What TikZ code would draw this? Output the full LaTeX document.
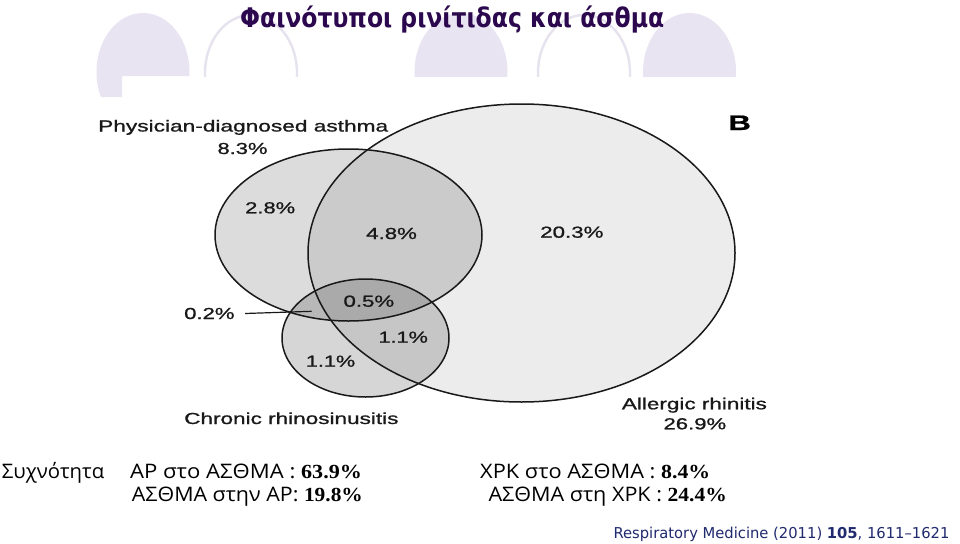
\documentclass[tikz,border=0pt]{standalone}
\usepackage{fontspec}
\usepackage{graphicx}
\setmainfont{Liberation Sans}
\newfontfamily\vennfont[FakeBold=0.9]{Liberation Sans}
\newfontfamily\titlefont{DejaVu Sans}
\newfontfamily\grkfont{Open Sans}
\newfontfamily\numfont{Liberation Serif}
\newfontfamily\reffont{DejaVu Sans}
\newcommand\fitw[2]{\resizebox{#1}{\height}{#2}}
\definecolor{lavfill}{RGB}{233,228,241}
\definecolor{lavring}{RGB}{230,226,238}
\definecolor{titlecol}{RGB}{44,8,78}
\definecolor{refcol}{RGB}{32,42,110}
\definecolor{vline}{RGB}{25,25,25}
\tikzset{
  vlab/.style={font={\vennfont\fontsize{16pt}{19pt}\selectfont}, inner sep=0pt, anchor=base west, text=black!90},
  grk/.style={font={\grkfont\fontsize{20pt}{24pt}\selectfont}, inner sep=0pt, anchor=base west, text=black},
  vset/.style={draw=vline, line width=1.5pt},
  lavshape/.style={fill=lavfill},
  lavoutline/.style={draw=lavring, line width=2.4pt},
}
\begin{document}
\begin{tikzpicture}[x=1pt,y=-1pt]
\useasboundingbox (0,0) rectangle (960,543);
\fill[white] (0,0) rectangle (960,543);
% decorations
\begin{scope}
  \clip (80,0) rectangle (200,76) (80,76) rectangle (122,97);
  \fill[lavshape] (143,72) ellipse [x radius=46.5pt, y radius=59pt];
\end{scope}
\begin{scope}
  \clip (180,0) rectangle (760,76);
  \draw[lavoutline] (251,73) ellipse [x radius=46pt, y radius=58pt];
  \fill[lavshape] (461,72) ellipse [x radius=46.5pt, y radius=59pt];
  \draw[lavoutline] (584,73) ellipse [x radius=46pt, y radius=58pt];
  \fill[lavshape] (689.5,72) ellipse [x radius=46.5pt, y radius=59pt];
\end{scope}
% title
\node[font={\titlefont\bfseries\fontsize{27pt}{30pt}\selectfont}, text=titlecol, inner sep=0pt, anchor=base west] (title) at (240,28) {\fitw{424pt}{Φαινότυποι ρινίτιδας και άσθμα}};
% venn fills
\fill[black, fill opacity=0.075] (521.5,253) ellipse [x radius=213.5pt, y radius=149pt];
\fill[black, fill opacity=0.137] (348.5,235) ellipse [x radius=133.5pt, y radius=86pt];
\fill[black, fill opacity=0.16] (365.5,338) ellipse [x radius=83.5pt, y radius=59pt];
% venn outlines
\draw[vset] (521.5,253) ellipse [x radius=213.5pt, y radius=149pt];
\draw[vset] (348.5,235) ellipse [x radius=133.5pt, y radius=86pt];
\draw[vset] (365.5,338) ellipse [x radius=83.5pt, y radius=59pt];
% venn labels
\node[vlab] (phys) at (98,131.5) {\fitw{290pt}{Physician-diagnosed asthma}};
\node[vlab] (p83) at (217.3,154) {\fitw{50pt}{8.3\%}};
\node[vlab] (p28) at (245,213.3) {\fitw{50pt}{2.8\%}};
\node[vlab] (p48) at (366,239) {\fitw{50.7pt}{4.8\%}};
\node[vlab] (p05) at (343.3,306.7) {\fitw{50.7pt}{0.5\%}};
\node[vlab] (p02) at (184,319) {\fitw{50.3pt}{0.2\%}};
\node[vlab] (p11a) at (378.3,342.7) {\fitw{49.4pt}{1.1\%}};
\node[vlab] (p11b) at (305.7,366.7) {\fitw{49.3pt}{1.1\%}};
\node[vlab] (crs) at (184,424) {\fitw{214.3pt}{Chronic rhinosinusitis}};
\node[vlab] (p203) at (540,237.7) {\fitw{63.3pt}{20.3\%}};
\node[vlab] (ar) at (621.7,409.3) {\fitw{145pt}{Allergic rhinitis}};
\node[vlab] (p269) at (663.3,429.3) {\fitw{62.7pt}{26.9\%}};
\node[vlab, font={\vennfont\bfseries\fontsize{21pt}{24pt}\selectfont}, text=black] (B) at (728.3,130) {\fitw{22.4pt}{B}};
\coordinate (crsA) at (311.7,311.3);
\draw[vline, line width=1.2pt] ([xshift=10.5pt]p02.east) -- (crsA);
% bottom texts
\node[grk] (syx) at (1.7,478.3) {\fitw{102.3pt}{Συχνότητα}};
\node[grk] (l1) at (130,478) {\fitw{231.7pt}{ΑΡ στο ΑΣΘΜΑ : {\numfont\bfseries 63.9\%}}};
\node[grk] (l2) at (131.7,501.7) {\fitw{231pt}{ΑΣΘΜΑ στην ΑΡ: {\numfont\bfseries 19.8\%}}};
\node[grk] (l3) at (480,478) {\fitw{230pt}{ΧΡΚ στο ΑΣΘΜΑ : {\numfont\bfseries 8.4\%}}};
\node[grk] (l4) at (488.3,501.7) {\fitw{238.4pt}{ΑΣΘΜΑ στη ΧΡΚ : {\numfont\bfseries 24.4\%}}};
\node[font={\reffont\fontsize{15pt}{18pt}\selectfont}, text=refcol, inner sep=0pt, anchor=base west] (ref) at (613.3,538.5) {\fitw{336pt}{Respiratory Medicine (2011) \textbf{105}, 1611–1621}};
\end{tikzpicture}
\end{document}
